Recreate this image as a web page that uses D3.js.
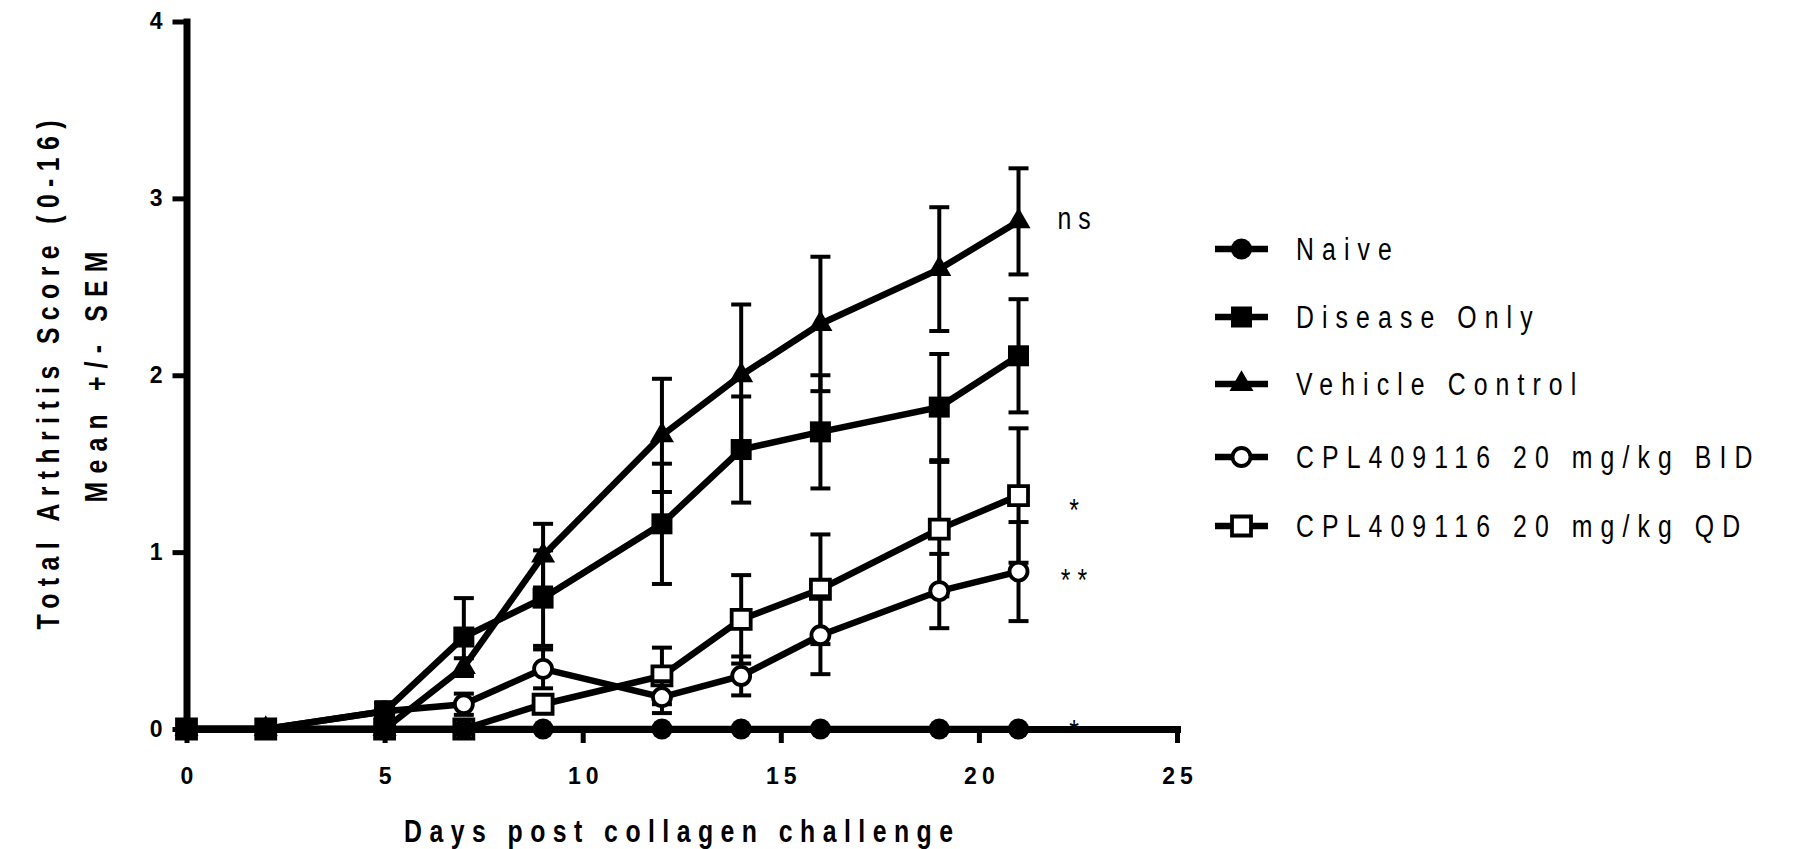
<!DOCTYPE html>
<html><head><meta charset="utf-8">
<script src="https://cdn.jsdelivr.net/npm/d3@7"></script>
<style>
body{margin:0;background:#fff}
svg{display:block}
text{font-family:"Liberation Sans", Arial, sans-serif; fill:#000}
</style>
</head><body>
<svg id="chart" width="1794" height="849"></svg>
<script>
// ---- data ----
const days = [0, 2, 5, 7, 9, 12, 14, 16, 19, 21];
const naive      = [0, 0, 0, 0, 0, 0, 0, 0, 0, 0];
const naiveSem   = [0, 0, 0, 0, 0, 0, 0, 0, 0, 0];
const diseaseOnly    = [0, 0, 0.10, 0.52, 0.74, 1.16, 1.58, 1.68, 1.82, 2.11];
const diseaseOnlySem = [0, 0, 0.05, 0.22, 0.27, 0.34, 0.30, 0.32, 0.30, 0.32];
const vehicleControl    = [0, 0, 0, 0.35, 0.98, 1.66, 2.00, 2.29, 2.60, 2.87];
const vehicleControlSem = [0, 0, 0, 0.05, 0.18, 0.32, 0.40, 0.38, 0.35, 0.30];
const cplBID    = [0, 0, 0.10, 0.14, 0.34, 0.18, 0.30, 0.53, 0.78, 0.89];
const cplBIDSem = [0, 0, 0.05, 0.06, 0.11, 0.09, 0.11, 0.22, 0.21, 0.28];
const cplQD    = [0, 0, 0, 0, 0.14, 0.30, 0.62, 0.79, 1.13, 1.32];
const cplQDSem = [0, 0, 0, 0, 0.05, 0.16, 0.25, 0.31, 0.38, 0.38];
const seriesNames = ["Naive", "Disease Only", "Vehicle Control", "CPL409116 20 mg/kg BID", "CPL409116 20 mg/kg QD"];
const xTicks = [0, 5, 10, 15, 20, 25];
const yTicks = [0, 1, 2, 3, 4];
const xTitle = "Days post collagen challenge";
const yTitle1 = "Total Arthritis Score (0-16)";
const yTitle2 = "Mean +/- SEM";
const annLabels = ["ns", "*", "**", "*"];
const annValues = [2.87, 1.28, 0.88, 0.03];
const annDay = 22.4;

// ---- layout ----
const svg = d3.select("#chart");
const x = d3.scaleLinear().domain([0, 25]).range([186.5, 1177]);
const y = d3.scaleLinear().domain([0, 4]).range([729, 21.5]);

const LW = 6.5;
const SQX = 0.8; // horizontal condensing of the text glyphs
const FS = 31;
const shapes = {
  circleF: {type: d3.symbolCircle, size: Math.PI * 10.5 * 10.5, fill: "#000"},
  squareF: {type: d3.symbolSquare, size: 21 * 21, fill: "#000"},
  triF:    {type: d3.symbolTriangle, size: 250, fill: "#000"},
  circleO: {type: d3.symbolCircle, size: Math.PI * 9 * 9, fill: "#fff"},
  squareO: {type: d3.symbolSquare, size: 19 * 19, fill: "#fff"}
};
const series = [
  {name: seriesNames[0], v: naive, e: naiveSem, shape: "circleF"},
  {name: seriesNames[1], v: diseaseOnly, e: diseaseOnlySem, shape: "squareF"},
  {name: seriesNames[2], v: vehicleControl, e: vehicleControlSem, shape: "triF"},
  {name: seriesNames[3], v: cplBID, e: cplBIDSem, shape: "circleO"},
  {name: seriesNames[4], v: cplQD, e: cplQDSem, shape: "squareO"}
];

function marker(g, shapeKey, cx, cy) {
  const s = shapes[shapeKey];
  g.append("path")
    .attr("d", d3.symbol().type(s.type).size(s.size)())
    .attr("transform", `translate(${cx},${cy})`)
    .attr("fill", s.fill)
    .attr("stroke", "#000")
    .attr("stroke-width", s.fill === "#fff" ? 3.8 : 0);
}

// condensed text helper
function ctext(parent, tx, ty, str, o = {}) {
  const g = parent.append("g")
    .attr("transform", `translate(${tx},${ty})${o.rotate ? ` rotate(${o.rotate})` : ""} scale(${SQX},1)`);
  const t = g.append("text").attr("x", 0).attr("y", 0)
    .attr("font-size", o.size || FS)
    .attr("font-weight", o.bold ? "bold" : "normal")
    .attr("text-anchor", o.anchor || "start")
    .text(str);
  if (o.length) t.attr("textLength", o.length / SQX).attr("lengthAdjust", "spacing");
  if (o.spacing) t.attr("letter-spacing", o.spacing / SQX);
  if (o.dx) t.attr("dx", o.dx / SQX);
  return t;
}

// annotations (drawn first, so the bottom asterisk is mostly hidden by the axis)
annLabels.forEach((t, i) => {
  const cy = y(annValues[i]);
  const dy = t === "ns" ? 8 : 18;
  ctext(svg, x(annDay), cy + dy, t, {anchor: "middle", spacing: 7, dx: 3.5});
});

// axes
const yAxis = svg.append("g").attr("transform", `translate(${x(0)},0)`)
  .call(d3.axisLeft(y).tickValues(yTicks).tickSize(14).tickSizeOuter(0).tickPadding(10).tickFormat(d3.format("d")));
const xAxis = svg.append("g").attr("transform", `translate(0,${y(0)})`)
  .call(d3.axisBottom(x).tickValues(xTicks).tickSize(14).tickSizeOuter(0).tickPadding(25).tickFormat(d3.format("d")));
[yAxis, xAxis].forEach(a => {
  a.select(".domain").attr("stroke", "#000").attr("stroke-width", 7).attr("stroke-linecap", "square");
  a.selectAll(".tick line").attr("stroke", "#000").attr("stroke-width", 5);
  a.selectAll(".tick text").attr("font-size", 23).attr("font-weight", "bold")
    .attr("font-family", '"Liberation Sans", Arial, sans-serif').attr("fill", "#000");
});
xAxis.selectAll(".tick text").attr("letter-spacing", 5).attr("dx", 2.5);

// series: draw QD first, Naive last (on top)
const plot = svg.append("g");
series.slice().reverse().forEach(s => {
  const g = plot.append("g");
  const pts = days.map((d, i) => ({d, v: s.v[i], e: s.e[i]}));
  pts.filter(p => p.e > 0).forEach(p => {
    const cx = x(p.d), y1 = y(p.v + p.e), y0 = y(p.v - p.e);
    g.append("line").attr("x1", cx).attr("x2", cx).attr("y1", y1).attr("y2", y0)
      .attr("stroke", "#000").attr("stroke-width", 4);
    [y1, y0].forEach(yy => g.append("line").attr("x1", cx - 10).attr("x2", cx + 10)
      .attr("y1", yy).attr("y2", yy).attr("stroke", "#000").attr("stroke-width", 4));
  });
  g.append("path").datum(pts)
    .attr("d", d3.line().x(p => x(p.d)).y(p => y(p.v)))
    .attr("fill", "none").attr("stroke", "#000").attr("stroke-width", LW);
  pts.forEach(p => marker(g, s.shape, x(p.d), y(p.v)));
});

// axis titles
ctext(svg, 678.5, 842, xTitle, {anchor: "middle", bold: true, length: 549});
ctext(svg, 59, 375, yTitle1, {anchor: "middle", bold: true, length: 509, rotate: -90});
ctext(svg, 107, 377, yTitle2, {anchor: "middle", bold: true, length: 251, rotate: -90});

// legend
const legendRows = [249, 317, 384, 457, 526];
series.forEach((s, i) => {
  const g = svg.append("g").attr("transform", `translate(0,${legendRows[i]})`);
  g.append("line").attr("x1", 1215).attr("x2", 1268).attr("y1", 0).attr("y2", 0)
    .attr("stroke", "#000").attr("stroke-width", LW);
  marker(g, s.shape, 1241.5, 0);
  ctext(g, 1296, 11, s.name, {spacing: 8.1});
});
</script>
</body></html>
